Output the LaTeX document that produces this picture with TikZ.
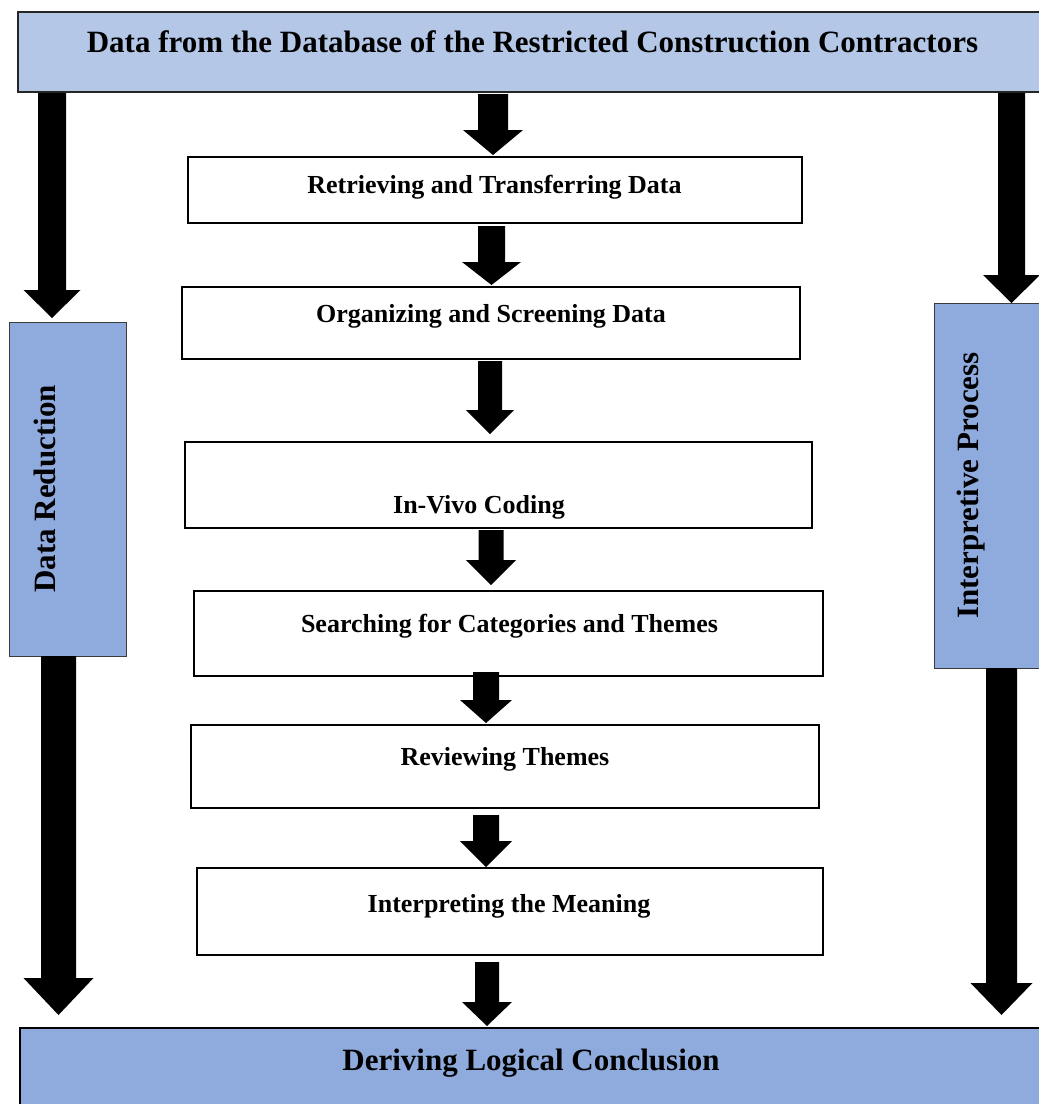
\documentclass[tikz,border=0pt]{standalone}
\usepackage{fontspec}
\setmainfont{Liberation Serif}
\definecolor{lightblue}{HTML}{B4C7E7}
\definecolor{midblue}{HTML}{8FAADC}
\definecolor{edgegray}{HTML}{3A3A3A}
\newcommand\blockarr[6]{%
  \fill[black] (#1-#5,#2) -- (#1+#5,#2) -- (#1+#5,#3) -- (#1+#6,#3) -- (#1,#4)
    -- (#1-#6,#3) -- (#1-#5,#3) -- cycle;}
\begin{document}
\begin{tikzpicture}[x=1pt,y=-1pt,
  stepbox/.style={draw=black,line width=2pt,fill=white,inner sep=0pt,outer sep=0pt},
  headbox/.style={draw=black!85,line width=1.6pt,fill=lightblue,inner sep=0pt,outer sep=0pt},
  sidebox/.style={draw=edgegray,line width=1pt,fill=midblue,inner sep=0pt,outer sep=0pt},
  endbox/.style={draw=black,line width=2pt,fill=midblue,inner sep=0pt,outer sep=0pt},
  bigtxt/.style={font=\fontsize{31}{36}\selectfont\bfseries,inner sep=0pt,anchor=base},
  smalltxt/.style={font=\fontsize{26}{30}\selectfont\bfseries,inner sep=0pt,anchor=base}]
\path[use as bounding box] (0,0) rectangle (1039,1104);
\begin{scope}
\clip (0,0) rectangle (1039,1104);
% boxes
\path[headbox] (18,12) rectangle (1050,92);
\node[inner sep=0pt] (top) at (534,52) {};
\path[stepbox] (188,157) rectangle (802,223);
\path[stepbox] (182,287) rectangle (800,359);
\path[stepbox] (185,442) rectangle (812,528);
\path[stepbox] (194,591) rectangle (823,676);
\path[stepbox] (191,725) rectangle (819,808);
\path[stepbox] (197,868) rectangle (823,955);
\path[sidebox] (9,322) rectangle (126,656);
\path[sidebox] (934,303) rectangle (1050,668);
\path[endbox] (20,1028) rectangle (1050,1115);
% texts
\node[bigtxt] (ttop) at (532.5,52) {Data from the Database of the Restricted Construction Contractors};
\node[smalltxt] (t1) at (494.5,193) {Retrieving and Transferring Data};
\node[smalltxt] (t2) at (491,322) {Organizing and Screening Data};
\node[smalltxt] (t3) at (479,513) {In-Vivo Coding};
\node[smalltxt] (t4) at (509.5,632) {Searching for Categories and Themes};
\node[smalltxt] (t5) at (505,765) {Reviewing Themes};
\node[smalltxt] (t6) at (509,912) {Interpreting the Meaning};
\node[bigtxt,rotate=90] (tl) at (55,489) {Data Reduction};
\node[bigtxt,rotate=90] (tr) at (978,485.5) {Interpretive Process};
\node[bigtxt] (tend) at (531,1070) {Deriving Logical Conclusion};
% arrows
\blockarr{52}{93}{290}{318}{14}{28.5}
\blockarr{1011.5}{93}{275}{303}{13.5}{28.5}
\blockarr{58.5}{656}{978}{1015}{17.5}{35}
\blockarr{1001.5}{668}{983}{1015}{15.5}{31}
\blockarr{493}{94}{130}{155}{15}{30}
\blockarr{491.5}{226}{262}{285}{13.5}{29.5}
\blockarr{490}{361}{410}{434}{12}{24}
\blockarr{491}{530}{560}{585}{12.5}{25}
\blockarr{486}{672}{700}{723}{13}{26}
\blockarr{486}{815}{841}{867}{13}{26}
\blockarr{487}{962}{1002}{1026}{12}{25}
\end{scope}
\end{tikzpicture}
\end{document}
